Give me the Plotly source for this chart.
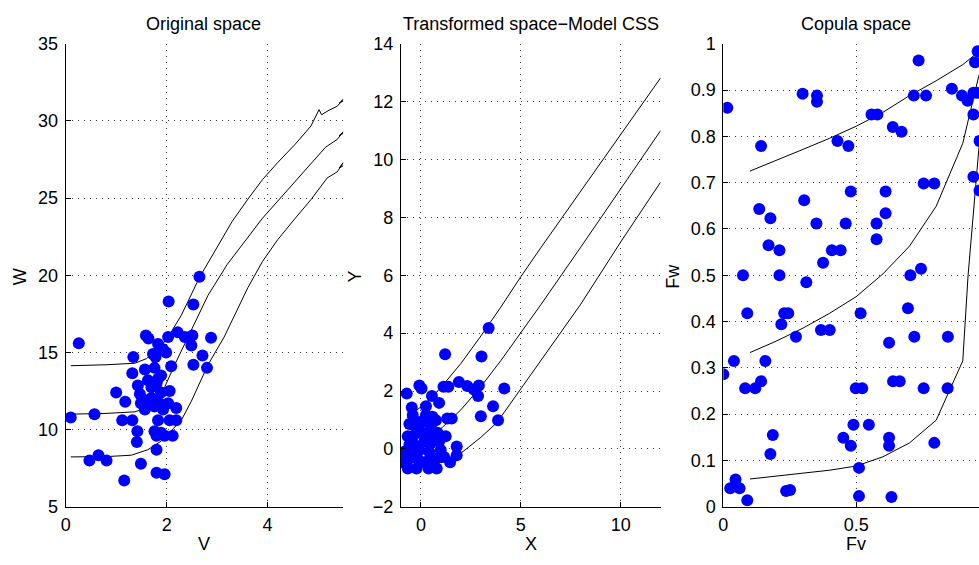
import plotly.graph_objects as go

# ---------------- Panel 1: Original space ----------------
V_pts = [0.26, 0.10, 0.57, 0.47, 0.65, 0.81, 1.16, 1.00, 1.18, 1.12, 1.32, 1.34, 1.32, 1.42, 1.41,
         1.49, 1.43, 1.47, 1.49, 1.57, 1.59, 1.64, 1.57, 1.63, 1.70, 1.73, 1.78, 1.83, 1.93, 1.99,
         1.76, 1.83, 1.89, 1.80, 1.70, 1.76, 1.86, 1.93, 2.03, 2.06, 2.09, 2.03, 2.04, 2.19, 2.19,
         2.06, 2.12, 1.83, 1.76, 1.80, 1.89, 1.96, 1.80, 1.80, 1.96, 2.22, 2.36, 2.49, 2.51, 2.53,
         2.65, 2.53, 2.71, 2.80, 2.88, 1.70, 1.54, 1.89]
W_pts = [15.6, 10.78, 11.0, 8.0, 8.34, 8.0, 6.7, 12.4, 11.8, 10.6, 10.6, 14.7, 13.65, 9.9, 9.2,
         7.78, 12.85, 12.3, 11.7, 11.3, 16.1, 15.9, 13.9, 13.2, 12.75, 14.9, 14.7, 15.55, 15.2, 15.0,
         14.0, 13.3, 13.5, 13.0, 12.05, 11.5, 11.7, 11.3, 11.7, 12.5, 14.1, 16.0, 18.3, 11.4, 10.6,
         10.6, 9.6, 10.6, 9.9, 9.6, 9.8, 9.6, 8.7, 7.2, 7.1, 16.3, 16.0, 15.45, 16.1, 18.1,
         19.9, 14.2, 14.8, 14.0, 15.95, 11.7, 11.95, 12.4]

V_up = [0.10, 0.80, 1.37, 1.60, 1.76, 1.90, 2.03, 2.29, 2.65, 3.01, 3.30, 3.61, 3.90, 4.20, 4.55, 4.86, 5.02, 5.07, 5.22, 5.38, 5.50, 5.42, 5.50]
W_up = [14.14, 14.20, 14.30, 14.60, 15.00, 15.45, 16.00, 17.40, 19.85, 21.90, 23.50, 24.93, 26.20, 27.30, 28.50, 29.67, 30.73, 30.40, 30.70, 30.95, 31.40, 31.15, 31.30]
V_md = [0.10, 0.80, 1.37, 1.55, 1.70, 1.85, 1.96, 2.16, 2.49, 2.82, 3.20, 3.61, 3.90, 4.20, 4.55, 4.86, 5.15, 5.38, 5.50, 5.42, 5.50]
W_md = [11.00, 11.05, 11.15, 11.35, 11.70, 12.20, 12.74, 14.20, 16.45, 18.70, 20.70, 22.50, 23.70, 24.80, 26.10, 27.20, 28.30, 28.80, 29.30, 29.05, 29.20]
V_lo = [0.10, 0.80, 1.30, 1.63, 1.89, 2.09, 2.29, 2.49, 2.82, 3.14, 3.61, 3.90, 4.20, 4.55, 4.86, 5.18, 5.38, 5.50, 5.42, 5.50]
W_lo = [8.23, 8.25, 8.34, 8.70, 9.25, 9.93, 10.60, 11.84, 14.20, 16.00, 19.20, 20.90, 22.30, 23.70, 24.90, 26.30, 26.70, 27.30, 26.95, 27.10]

# ---------------- Panel 2: Transformed space ----------------
X_pts = [3.39, 1.21, 3.03, -0.71, -0.08, 0.03, -0.46, 0.25, 0.55, 0.91, 1.13, 1.37, 1.90, 2.32, 2.65,
         2.90, 2.86, 4.17, 3.61, 3.00, 3.86, 1.32, 1.54, 1.24, 1.79, 1.79, 1.46, -0.58, -0.33, -0.05,
         0.33, 0.75, 0.50, -0.66, -0.41, -0.17, 0.08, 0.58, 0.83, -0.58, -0.33, 0.17, 0.50, 0.91,
         -0.83, -0.50, -0.08, 0.41, 0.99, -0.58, -0.17, 0.41, 0.75, 1.16, -0.66, -0.22, 0.38, 0.79,
         0.17, -0.91, 0.58, 0.25, -0.41]
Y_pts = [4.18, 3.27, 3.19, 1.91, 2.19, 2.09, 1.43, 1.47, 1.83, 1.59, 2.15, 2.15, 2.31, 2.17, 2.05,
         2.19, 1.83, 2.09, 1.47, 1.13, 0.99, 1.05, 1.05, 0.44, 0.08, -0.22, -0.46, 0.86, 0.80, 0.93,
         0.93, 0.99, 0.74, 0.44, 0.44, 0.56, 0.56, 0.44, 0.56, 0.14, 0.14, 0.26, 0.20, 0.26,
         -0.10, -0.16, -0.04, -0.10, -0.04, -0.34, -0.34, -0.40, -0.34, -0.28, -0.68, -0.68, -0.68, -0.68,
         -0.46, -0.46, 1.11, 1.17, 1.17]

X_up = [-0.71, 0.00, 0.50, 1.08, 2.00, 3.00, 4.00, 5.00, 6.00, 8.00, 10.00, 12.00]
Y_up = [1.08, 1.45, 1.75, 2.19, 2.95, 3.90, 4.90, 5.95, 6.95, 8.90, 10.85, 12.82]
X_md = [-0.71, 0.00, 0.50, 1.08, 2.00, 3.00, 4.00, 5.00, 6.00, 8.00, 10.00, 12.00]
Y_md = [-0.04, 0.22, 0.45, 0.75, 1.35, 2.15, 3.05, 4.00, 4.98, 6.97, 8.98, 11.00]
X_lo = [-0.71, 0.00, 0.50, 1.08, 2.00, 3.00, 3.73, 4.00, 5.00, 6.00, 8.00, 10.00, 12.00]
Y_lo = [-0.64, -0.58, -0.54, -0.46, -0.15, 0.40, 0.86, 1.10, 2.07, 3.02, 5.00, 7.15, 9.22]

# ---------------- Panel 3: Copula space ----------------
Fv_pts = [0.015, 0.142, 0.298, 0.352, 0.352, 0.429, 0.470, 0.557, 0.579, 0.637, 0.670, 0.734, 0.716,
          0.762, 0.859, 0.897, 0.918, 0.940, 0.953, 0.940, 0.956, 0.946, 0.963, 0.940, 0.963, 0.753,
          0.793, 0.479, 0.610, 0.610, 0.460, 0.576, 0.576, 0.304, 0.350, 0.135, 0.177, 0.170, 0.211,
          0.408, 0.441, 0.375, 0.312, 0.074, 0.211, 0.090, 0.218, 0.229, 0.244, 0.273, 0.367, 0.400,
          0.516, 0.703, 0.743, 0.694, 0.718, 0.844, 0.623, 0.000, 0.040, 0.158, 0.142, 0.082, 0.120,
          0.498, 0.522, 0.638, 0.663, 0.753, 0.843, 0.489, 0.547, 0.451, 0.479, 0.623, 0.623, 0.793,
          0.186, 0.177, 0.510, 0.510, 0.632, 0.026, 0.046, 0.061, 0.090, 0.236, 0.251]
Fw_pts = [0.862, 0.779, 0.892, 0.888, 0.875, 0.790, 0.779, 0.847, 0.847, 0.820, 0.810, 0.964, 0.888,
          0.888, 0.903, 0.888, 0.877, 0.894, 0.894, 0.847, 0.984, 0.960, 0.790, 0.713, 0.683, 0.698,
          0.698, 0.681, 0.681, 0.634, 0.612, 0.612, 0.578, 0.662, 0.612, 0.643, 0.623, 0.565, 0.554,
          0.554, 0.554, 0.527, 0.485, 0.500, 0.500, 0.418, 0.394, 0.418, 0.418, 0.367, 0.382, 0.382,
          0.418, 0.500, 0.514, 0.429, 0.367, 0.367, 0.354, 0.286, 0.315, 0.315, 0.271, 0.256, 0.256,
          0.256, 0.256, 0.271, 0.271, 0.256, 0.256, 0.177, 0.177, 0.149, 0.132, 0.149, 0.132, 0.138,
          0.155, 0.114, 0.084, 0.023, 0.021, 0.040, 0.059, 0.040, 0.014, 0.034, 0.036]

Fv_up = [0.10, 0.20, 0.30, 0.40, 0.50, 0.60, 0.70, 0.80, 0.90, 0.96, 1.00]
Fw_up = [0.725, 0.748, 0.772, 0.796, 0.822, 0.852, 0.888, 0.920, 0.955, 0.983, 1.000]
Fv_md = [0.10, 0.20, 0.30, 0.40, 0.50, 0.60, 0.70, 0.80, 0.90, 0.96, 1.00]
Fw_md = [0.333, 0.358, 0.386, 0.418, 0.454, 0.503, 0.563, 0.649, 0.785, 0.930, 1.000]
Fv_lo = [0.10, 0.20, 0.30, 0.40, 0.50, 0.60, 0.70, 0.80, 0.90, 0.92, 0.96, 1.00]
Fw_lo = [0.060, 0.066, 0.072, 0.079, 0.088, 0.108, 0.138, 0.187, 0.315, 0.500, 0.770, 0.950]

titles = ["Original space", "Transformed space\u2212Model CSS", "Copula space"]
xlabels = ["V", "X", "Fv"]
ylabels = ["W", "Y", "Fw"]

W, H = 979, 565
FONT = "Liberation Sans, Arial, Helvetica, sans-serif"

fig = go.Figure()

blue = "#0000FF"
msize = 12

def add_panel(k, xp, yp, curves):
    xa = "x" if k == 1 else f"x{k}"
    ya = "y" if k == 1 else f"y{k}"
    for cx, cy in curves:
        fig.add_trace(go.Scatter(x=cx, y=cy, mode="lines", line=dict(color="black", width=1),
                                 xaxis=xa, yaxis=ya, showlegend=False, hoverinfo="skip"))
    fig.add_trace(go.Scatter(x=xp, y=yp, mode="markers",
                             marker=dict(color=blue, size=msize, line=dict(width=0)),
                             xaxis=xa, yaxis=ya, showlegend=False))

add_panel(1, V_pts, W_pts, [(V_up, W_up), (V_md, W_md), (V_lo, W_lo)])
add_panel(2, X_pts, Y_pts, [(X_up, Y_up), (X_md, Y_md), (X_lo, Y_lo)])
add_panel(3, Fv_pts, Fw_pts, [(Fv_up, Fw_up), (Fv_md, Fw_md), (Fv_lo, Fw_lo)])

top_px, bot_px = 35, 515
ydom = [(H - bot_px) / H, (H - top_px) / H]
xdoms = [[61 / W, 340 / W], [398 / W, 659 / W], [722 / W, 1.0]]
xranges = [[0, 5.5], [-1, 12], [0, 0.961]]
yranges = [[5, 35], [-2, 14], [0, 1]]
xticks = [[0, 2, 4], [0, 5, 10], [0, 0.5]]
yticks = [[5, 10, 15, 20, 25, 30, 35], [-2, 0, 2, 4, 6, 8, 10, 12, 14],
          [0, 0.1, 0.2, 0.3, 0.4, 0.5, 0.6, 0.7, 0.8, 0.9, 1]]

common = dict(showline=True, linecolor="black", linewidth=1, mirror=False,
              ticks="inside", ticklen=5, tickcolor="black", tickwidth=1,
              showgrid=True, gridcolor="#333333", gridwidth=1, griddash="1px,5px",
              zeroline=False, tickfont=dict(family=FONT, size=18, color="black"),
              fixedrange=True)

layout = dict(width=W, height=H, margin=dict(l=0, r=0, t=0, b=0),
              paper_bgcolor="white", plot_bgcolor="white", showlegend=False)
for i in range(3):
    sx = "xaxis" if i == 0 else f"xaxis{i+1}"
    sy = "yaxis" if i == 0 else f"yaxis{i+1}"
    anchor_y = "y" if i == 0 else f"y{i+1}"
    anchor_x = "x" if i == 0 else f"x{i+1}"
    layout[sx] = dict(domain=xdoms[i], range=xranges[i], tickvals=xticks[i],
                      anchor=anchor_y, ticklabelstandoff=2, **common)
    layout[sy] = dict(domain=ydom, range=yranges[i], tickvals=yticks[i],
                      anchor=anchor_x, ticklabelstandoff=3, **common)
fig.update_layout(**layout)

ann = []
title_cx = [200, 528.5, 855]
ylab_x = [15, 352, 672]
for i in range(3):
    ann.append(dict(text=titles[i], x=title_cx[i] / W, y=(H - 15) / H, xref="paper", yref="paper",
                    showarrow=False, xanchor="center", yanchor="middle",
                    font=dict(family=FONT, size=18, color="black")))
    ann.append(dict(text=xlabels[i], x=title_cx[i] / W, y=0, xref="paper", yref="paper",
                    showarrow=False, xanchor="center", yanchor="bottom", borderpad=0,
                    font=dict(family=FONT, size=18, color="black")))
    ann.append(dict(text=ylabels[i], x=ylab_x[i] / W, y=(H - 276) / H, xref="paper", yref="paper",
                    showarrow=False, xanchor="center", yanchor="middle", textangle=-90,
                    font=dict(family=FONT, size=18, color="black")))
fig.update_layout(annotations=ann)

fig.write_html("out.html")
